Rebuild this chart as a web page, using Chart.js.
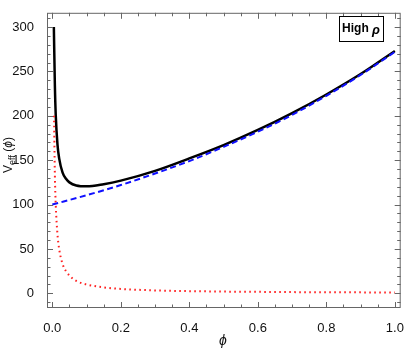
<!DOCTYPE html>
<html>
<head>
<meta charset="utf-8">
<script src="https://cdn.jsdelivr.net/npm/chart.js@4.4.1/dist/chart.umd.min.js"></script>
<style>
  html, body { margin: 0; padding: 0; background: #fff; }
  #wrap { width: 409px; height: 350px; position: relative; }
</style>
</head>
<body>
<div id="wrap"><canvas id="chart"></canvas></div>
<script>
// valores
const phiTotal = [0.0045, 0.0075, 0.01, 0.015, 0.02, 0.03, 0.04, 0.05, 0.07, 0.1, 0.15, 0.2, 0.3, 0.4, 0.5, 0.6, 0.7, 0.8, 0.9, 1.0];
const vTotal = [300, 234, 201, 168, 152, 136, 129, 125, 121.5, 120.5, 123, 127, 138, 152, 167, 184, 203, 224, 247, 273];

const phiExp = [0, 0.1, 0.2, 0.3, 0.4, 0.5, 0.6, 0.7, 0.8, 0.9, 1.0];
const vExp = [100, 110.5, 122, 135, 149, 165, 182, 201, 222.5, 246, 272];

const phiInv = [0.005, 0.0075, 0.01, 0.015, 0.02, 0.03, 0.04, 0.05, 0.07, 0.1, 0.15, 0.2, 0.3, 0.4, 0.5, 0.6, 0.7, 0.8, 0.9, 1.0];
const vInv = [200, 133, 100, 67, 50, 33, 25, 20, 14, 10, 6.7, 5, 3.3, 2.5, 2, 1.7, 1.4, 1.25, 1.1, 1];

const xTicks = [0, 0.2, 0.4, 0.6, 0.8, 1.0];
const yTicks = [0, 50, 100, 150, 200, 250, 300];

const AXIS_COLOR = "#666";
const LABEL_COLOR = "#111";
const FONT = "'Liberation Sans', Arial, sans-serif";

function pontos(xs, ys) {
  return xs.map((x, i) => ({ x: x, y: ys[i] }));
}

// moldura, marcas internas, rótulos e caixa "High ρ"
const molduraPlugin = {
  id: "moldura",
  afterDraw(chart) {
    const ctx = chart.ctx;
    const a = chart.chartArea;
    const sx = chart.scales.x;
    const sy = chart.scales.y;
    ctx.save();
    ctx.strokeStyle = AXIS_COLOR;
    ctx.lineWidth = 1;
    ctx.strokeRect(a.left + 0.5, a.top + 0.5, a.right - a.left - 1, a.bottom - a.top - 1);

    ctx.beginPath();
    for (let i = 0; i <= 20; i++) {
      const v = i * 0.05;
      const px = Math.round(sx.getPixelForValue(v)) + 0.5;
      const len = i % 4 === 0 ? 6 : 3.5;
      ctx.moveTo(px, a.bottom);
      ctx.lineTo(px, a.bottom - len);
      ctx.moveTo(px, a.top);
      ctx.lineTo(px, a.top + len);
    }
    for (let v = -10; v <= 310; v += 10) {
      const py = Math.round(sy.getPixelForValue(v)) + 0.5;
      const len = v % 50 === 0 ? 6 : 3.5;
      ctx.moveTo(a.left, py);
      ctx.lineTo(a.left + len, py);
      ctx.moveTo(a.right, py);
      ctx.lineTo(a.right - len, py);
    }
    ctx.stroke();

    // título do eixo x
    ctx.fillStyle = LABEL_COLOR;
    ctx.font = "italic 14px " + FONT;
    ctx.textAlign = "center";
    ctx.textBaseline = "middle";
    ctx.fillText("\u03d5", 223, 341);

    // título do eixo y (rotacionado)
    const partes = [
      { t: "V", f: "12px ", dy: 0 },
      { t: "eff", f: "9px ", dy: 3 },
      { t: " (", f: "12px ", dy: 0 },
      { t: "\u03d5", f: "italic 12px ", dy: 0 },
      { t: ")", f: "12px ", dy: 0 },
    ];
    let largura = 0;
    partes.forEach((p) => {
      ctx.font = p.f + FONT;
      largura += ctx.measureText(p.t).width;
    });
    ctx.translate(12, 155);
    ctx.rotate(-Math.PI / 2);
    ctx.textAlign = "left";
    ctx.textBaseline = "alphabetic";
    let x0 = -largura / 2;
    partes.forEach((p) => {
      ctx.font = p.f + FONT;
      ctx.fillText(p.t, x0, p.dy);
      x0 += ctx.measureText(p.t).width;
    });
    ctx.setTransform(1, 0, 0, 1, 0, 0);

    // caixa de rótulo
    ctx.fillStyle = "#fff";
    ctx.fillRect(339, 16, 44, 25);
    ctx.strokeStyle = "#000";
    ctx.strokeRect(339.5, 16.5, 44, 25);
    ctx.fillStyle = "#000";
    ctx.font = "bold 12px " + FONT;
    ctx.textBaseline = "middle";
    ctx.textAlign = "left";
    const t1 = "High ";
    const w1 = ctx.measureText(t1).width;
    ctx.font = "bold italic 13px " + FONT;
    const w2 = ctx.measureText("\u03c1").width;
    const tx = 361 - (w1 + w2) / 2;
    ctx.font = "bold 12px " + FONT;
    ctx.fillText(t1, tx, 29);
    ctx.font = "bold italic 13px " + FONT;
    ctx.fillText("\u03c1", tx + w1, 30);
    ctx.restore();
  },
};

new Chart(document.getElementById("chart"), {
  type: "line",
  data: {
    datasets: [
      {
        label: "1/phi",
        data: pontos(phiInv, vInv),
        borderColor: "#ff2020",
        borderWidth: 2,
        borderDash: [1.6, 3.4],
        pointRadius: 0,
        cubicInterpolationMode: "monotone",
        fill: false,
      },
      {
        label: "exp",
        data: pontos(phiExp, vExp),
        borderColor: "#1010ff",
        borderWidth: 2,
        borderDash: [6, 3.5],
        pointRadius: 0,
        cubicInterpolationMode: "monotone",
        fill: false,
      },
      {
        label: "Veff",
        data: pontos(phiTotal, vTotal),
        borderColor: "#000",
        borderWidth: 2.5,
        pointRadius: 0,
        cubicInterpolationMode: "monotone",
        fill: false,
      },
    ],
  },
  options: {
    responsive: true,
    maintainAspectRatio: false,
    animation: false,
    layout: { padding: { top: 5, right: 6, left: 0, bottom: 0 } },
    plugins: {
      legend: { display: false },
      tooltip: { enabled: false },
    },
    scales: {
      x: {
        type: "linear",
        min: -0.0155,
        max: 1.017,
        grid: { display: false },
        border: { display: false },
        afterBuildTicks(scale) {
          scale.ticks = xTicks.map((v) => ({ value: v }));
        },
        afterFit(scale) {
          scale.height = 42;
        },
        ticks: {
          padding: 5,
          color: LABEL_COLOR,
          font: { family: FONT, size: 13 },
          callback: (v) => v.toFixed(1),
        },
      },
      y: {
        type: "linear",
        min: -16.5,
        max: 316,
        grid: { display: false },
        border: { display: false },
        afterBuildTicks(scale) {
          scale.ticks = yTicks.map((v) => ({ value: v }));
        },
        afterFit(scale) {
          scale.width = 47;
        },
        ticks: {
          padding: 5,
          color: LABEL_COLOR,
          font: { family: FONT, size: 13 },
        },
      },
    },
  },
  plugins: [molduraPlugin],
});
</script>
</body>
</html>
